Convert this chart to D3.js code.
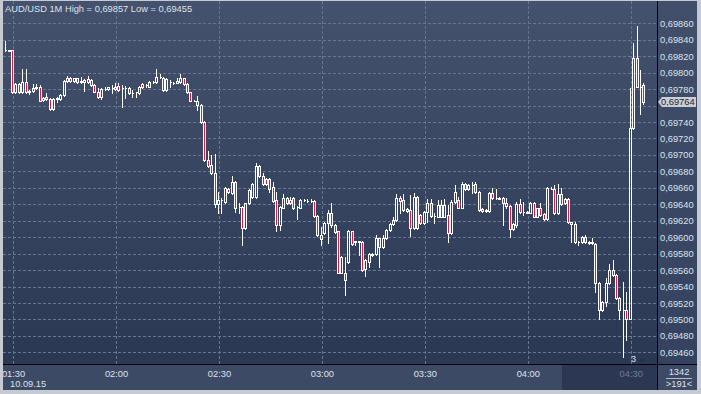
<!DOCTYPE html>
<html>
<head>
<meta charset="utf-8">
<script src="https://cdn.jsdelivr.net/npm/d3@7"></script>
<style>
  html, body { margin: 0; padding: 0; background: #c6cbd3; }
  svg { display: block; font-family: "Liberation Sans", Arial, sans-serif; }
</style>
</head>
<body>
<div id="chart"></div>
<script>
// AUD/USD 1M bars, 10.09.15 01:28 .. 04:34
const firstBar = new Date(2015, 8, 10, 1, 28);

const open = [0.69827,0.69827,0.69827,0.69776,0.69786,0.69776,0.69789,0.69777,0.69778,0.69781,
0.69782,0.69767,0.69771,0.69768,0.69756,0.69768,0.69768,0.69773,0.69790,0.69794,
0.69790,0.69793,0.69789,0.69791,0.69789,0.69791,0.69785,0.69777,0.69770,0.69780,
0.69780,0.69781,0.69783,0.69784,0.69781,0.69781,0.69781,0.69775,0.69776,0.69775,
0.69786,0.69785,0.69783,0.69789,0.69789,0.69795,0.69793,0.69779,0.69789,0.69788,
0.69788,0.69789,0.69793,0.69786,0.69776,0.69766,0.69766,0.69761,0.69740,0.69694,
0.69688,0.69678,0.69640,0.69645,0.69643,0.69658,0.69654,0.69667,0.69637,0.69637,
0.69611,0.69641,0.69649,0.69649,0.69687,0.69674,0.69671,0.69671,0.69661,0.69645,
0.69615,0.69636,0.69648,0.69645,0.69648,0.69637,0.69636,0.69645,0.69644,0.69644,
0.69644,0.69626,0.69603,0.69605,0.69617,0.69629,0.69615,0.69607,0.69557,0.69557,
0.69570,0.69607,0.69595,0.69596,0.69594,0.69561,0.69570,0.69580,0.69579,0.69599,
0.69588,0.69599,0.69609,0.69616,0.69621,0.69648,0.69645,0.69632,0.69633,0.69611,
0.69649,0.69627,0.69617,0.69631,0.69641,0.69626,0.69625,0.69639,0.69625,0.69627,
0.69605,0.69643,0.69645,0.69636,0.69665,0.69658,0.69663,0.69665,0.69655,0.69634,
0.69632,0.69632,0.69654,0.69648,0.69648,0.69648,0.69642,0.69638,0.69610,0.69615,
0.69640,0.69631,0.69631,0.69630,0.69641,0.69625,0.69635,0.69628,0.69622,0.69659,
0.69659,0.69629,0.69653,0.69641,0.69647,0.69618,0.69616,0.69594,0.69594,0.69600,
0.69594,0.69594,0.69592,0.69544,0.69511,0.69521,0.69544,0.69560,0.69554,0.69526,
0.69511,0.69511,0.69501,0.69733,0.69818,0.69783,0.69785];

const high = [0.69838,0.69828,0.69828,0.69787,0.69787,0.69805,0.69805,0.69779,0.69786,0.69786,
0.69785,0.69771,0.69775,0.69769,0.69769,0.69770,0.69774,0.69791,0.69796,0.69795,
0.69794,0.69794,0.69795,0.69792,0.69796,0.69792,0.69786,0.69781,0.69781,0.69782,
0.69782,0.69785,0.69787,0.69788,0.69785,0.69784,0.69782,0.69779,0.69777,0.69784,
0.69787,0.69786,0.69790,0.69790,0.69805,0.69798,0.69795,0.69793,0.69791,0.69789,
0.69793,0.69798,0.69794,0.69787,0.69777,0.69767,0.69772,0.69762,0.69741,0.69705,
0.69700,0.69701,0.69655,0.69648,0.69661,0.69660,0.69674,0.69668,0.69641,0.69638,
0.69642,0.69658,0.69666,0.69690,0.69688,0.69678,0.69672,0.69672,0.69667,0.69655,
0.69638,0.69652,0.69649,0.69649,0.69649,0.69638,0.69646,0.69646,0.69646,0.69646,
0.69645,0.69627,0.69612,0.69618,0.69633,0.69641,0.69616,0.69607,0.69577,0.69576,
0.69609,0.69608,0.69596,0.69596,0.69595,0.69573,0.69581,0.69581,0.69603,0.69599,
0.69603,0.69610,0.69617,0.69625,0.69653,0.69650,0.69653,0.69635,0.69651,0.69654,
0.69650,0.69628,0.69632,0.69646,0.69647,0.69629,0.69645,0.69645,0.69646,0.69639,
0.69645,0.69663,0.69649,0.69667,0.69666,0.69665,0.69667,0.69667,0.69656,0.69635,
0.69634,0.69655,0.69660,0.69659,0.69649,0.69649,0.69648,0.69639,0.69617,0.69643,
0.69646,0.69643,0.69632,0.69643,0.69643,0.69636,0.69641,0.69629,0.69661,0.69661,
0.69664,0.69665,0.69660,0.69648,0.69648,0.69619,0.69619,0.69595,0.69601,0.69603,
0.69595,0.69599,0.69593,0.69545,0.69522,0.69550,0.69568,0.69572,0.69555,0.69527,
0.69546,0.69534,0.69781,0.69836,0.69857,0.69803,0.69787];

const low = [0.69826,0.69826,0.69775,0.69775,0.69775,0.69775,0.69775,0.69774,0.69776,0.69780,
0.69765,0.69765,0.69767,0.69755,0.69755,0.69764,0.69767,0.69772,0.69789,0.69789,
0.69789,0.69787,0.69788,0.69778,0.69787,0.69784,0.69776,0.69769,0.69768,0.69779,
0.69779,0.69775,0.69779,0.69778,0.69758,0.69769,0.69774,0.69771,0.69771,0.69774,
0.69781,0.69783,0.69782,0.69788,0.69788,0.69793,0.69778,0.69778,0.69783,0.69786,
0.69787,0.69788,0.69785,0.69775,0.69765,0.69765,0.69755,0.69739,0.69693,0.69685,
0.69677,0.69637,0.69629,0.69630,0.69642,0.69654,0.69653,0.69631,0.69630,0.69590,
0.69610,0.69640,0.69648,0.69648,0.69673,0.69664,0.69664,0.69655,0.69643,0.69607,
0.69609,0.69635,0.69640,0.69640,0.69634,0.69622,0.69635,0.69644,0.69643,0.69643,
0.69624,0.69601,0.69590,0.69604,0.69593,0.69613,0.69605,0.69556,0.69556,0.69530,
0.69569,0.69591,0.69590,0.69578,0.69559,0.69553,0.69564,0.69577,0.69578,0.69564,
0.69587,0.69598,0.69608,0.69615,0.69620,0.69629,0.69632,0.69631,0.69601,0.69610,
0.69610,0.69616,0.69616,0.69619,0.69624,0.69617,0.69624,0.69624,0.69624,0.69594,
0.69604,0.69642,0.69635,0.69635,0.69657,0.69657,0.69654,0.69654,0.69632,0.69631,
0.69631,0.69631,0.69647,0.69647,0.69646,0.69615,0.69635,0.69600,0.69609,0.69613,
0.69630,0.69627,0.69629,0.69629,0.69624,0.69624,0.69626,0.69621,0.69621,0.69658,
0.69628,0.69628,0.69639,0.69640,0.69617,0.69594,0.69593,0.69591,0.69593,0.69593,
0.69592,0.69592,0.69534,0.69501,0.69510,0.69517,0.69543,0.69553,0.69525,0.69501,
0.69455,0.69475,0.69500,0.69732,0.69817,0.69750,0.69762];

const close = [0.69827,0.69826,0.69776,0.69786,0.69776,0.69789,0.69777,0.69778,0.69781,0.69782,
0.69766,0.69769,0.69768,0.69756,0.69768,0.69769,0.69773,0.69790,0.69794,0.69790,
0.69793,0.69789,0.69790,0.69789,0.69792,0.69785,0.69777,0.69770,0.69780,0.69780,
0.69782,0.69781,0.69780,0.69779,0.69781,0.69781,0.69775,0.69775,0.69776,0.69783,
0.69782,0.69785,0.69789,0.69789,0.69795,0.69795,0.69779,0.69792,0.69789,0.69788,
0.69790,0.69793,0.69786,0.69776,0.69766,0.69766,0.69761,0.69740,0.69694,0.69686,
0.69678,0.69640,0.69645,0.69645,0.69660,0.69655,0.69667,0.69636,0.69637,0.69611,
0.69641,0.69657,0.69665,0.69687,0.69674,0.69665,0.69665,0.69659,0.69644,0.69615,
0.69637,0.69648,0.69641,0.69641,0.69635,0.69637,0.69645,0.69645,0.69644,0.69644,
0.69626,0.69603,0.69598,0.69617,0.69629,0.69615,0.69606,0.69557,0.69576,0.69548,
0.69607,0.69592,0.69594,0.69594,0.69560,0.69572,0.69580,0.69578,0.69599,0.69588,
0.69599,0.69609,0.69616,0.69621,0.69648,0.69644,0.69633,0.69634,0.69611,0.69649,
0.69611,0.69617,0.69631,0.69642,0.69626,0.69626,0.69639,0.69625,0.69639,0.69605,
0.69643,0.69655,0.69636,0.69665,0.69658,0.69663,0.69664,0.69655,0.69633,0.69632,
0.69633,0.69654,0.69648,0.69648,0.69647,0.69642,0.69638,0.69610,0.69616,0.69640,
0.69631,0.69631,0.69630,0.69641,0.69625,0.69635,0.69627,0.69622,0.69660,0.69659,
0.69629,0.69653,0.69640,0.69647,0.69618,0.69616,0.69594,0.69594,0.69600,0.69594,
0.69593,0.69593,0.69544,0.69511,0.69521,0.69544,0.69560,0.69554,0.69526,0.69511,
0.69511,0.69501,0.69733,0.69818,0.69783,0.69783,0.69764];

const priceTicks = [0.69460,0.69480,0.69500,0.69520,0.69540,0.69560,0.69580,0.69600,0.69620,
  0.69640,0.69660,0.69680,0.69700,0.69720,0.69740,0.69760,0.69780,0.69800,0.69820,0.69840,0.69860];
const timeTicks = ["01:30","02:00","02:30","03:00","03:30","04:00","04:30"];

const title = "AUD/USD 1M High = 0,69857 Low = 0,69455";
const lastPrice = 0.69764;

const width = 701, height = 394;
const plot = { left: 3, top: 1, right: 657, bottom: 364 };
const textColor = "#dde2ea";
const fontSize = "9.3px";

const bars = open.map((o, i) => ({
  t: d3.timeMinute.offset(firstBar, i),
  o, h: high[i], l: low[i], c: close[i]
}));

const parseHM = s => {
  const [hh, mm] = s.split(":").map(Number);
  return new Date(2015, 8, 10, hh, mm);
};

const x = d3.scaleTime()
  .domain([new Date(2015, 8, 10, 2, 0), new Date(2015, 8, 10, 4, 30)])
  .range([116, 630.7]);
const y = d3.scaleLinear()
  .domain([0.69460, 0.69860])
  .range([352.4, 23.3]);

const comma = p => d3.format(".5f")(p).replace(".", ",");

const svg = d3.select("#chart").append("svg")
  .attr("width", width).attr("height", height)
  .attr("viewBox", [0, 0, width, height]);

const defs = svg.append("defs");
const grad = defs.append("linearGradient").attr("id", "bg")
  .attr("x1", 0).attr("y1", 0).attr("x2", 0).attr("y2", 1);
grad.append("stop").attr("offset", 0).attr("stop-color", "#44526e");
grad.append("stop").attr("offset", 1).attr("stop-color", "#2b3853");
const gradR = defs.append("linearGradient").attr("id", "bgR")
  .attr("x1", 0).attr("y1", 0).attr("x2", 0).attr("y2", 1);
gradR.append("stop").attr("offset", 0).attr("stop-color", "#414f6b");
gradR.append("stop").attr("offset", 1).attr("stop-color", "#344260");
defs.append("clipPath").attr("id", "plotClip").append("rect")
  .attr("x", plot.left).attr("y", plot.top)
  .attr("width", plot.right - plot.left).attr("height", plot.bottom - plot.top);

// backgrounds
svg.append("rect").attr("x", 0).attr("y", 0).attr("width", width).attr("height", height).attr("fill", "#c6cbd3");
svg.append("rect").attr("x", plot.left).attr("y", plot.top)
  .attr("width", plot.right - plot.left).attr("height", plot.bottom - plot.top)
  .attr("fill", "url(#bg)");
svg.append("rect").attr("x", plot.right).attr("y", plot.top)
  .attr("width", 697 - plot.right).attr("height", plot.bottom - plot.top)
  .attr("fill", "url(#bgR)");
svg.append("rect").attr("x", plot.left).attr("y", plot.bottom)
  .attr("width", 697 - plot.left).attr("height", 390 - plot.bottom)
  .attr("fill", "#3c4a65");
// darker zone at the right of the time axis
svg.append("rect").attr("x", 562).attr("y", plot.bottom + 1)
  .attr("width", plot.right - 562).attr("height", 390 - plot.bottom - 1)
  .attr("fill", "#2c3853");

// grid
const grid = svg.append("g").attr("clip-path", "url(#plotClip)")
  .attr("stroke", "#667693").attr("stroke-dasharray", "3,2").attr("shape-rendering", "crispEdges");
grid.selectAll("line.h").data(priceTicks).join("line").attr("class", "h")
  .attr("x1", plot.left).attr("x2", plot.right)
  .attr("y1", d => Math.round(y(d)) + 0.5).attr("y2", d => Math.round(y(d)) + 0.5);
grid.selectAll("line.v").data(timeTicks).join("line").attr("class", "v")
  .attr("y1", plot.top).attr("y2", plot.bottom)
  .attr("x1", d => Math.round(x(parseHM(d))) + 0.5).attr("x2", d => Math.round(x(parseHM(d))) + 0.5);

// candles
const red = "#e3173e";
const candles = svg.append("g").attr("clip-path", "url(#plotClip)")
  .attr("shape-rendering", "crispEdges");
const cx = d => Math.round(x(d.t));
const bodyTop = d => Math.round(y(Math.max(d.o, d.c)));
const bodyBot = d => Math.round(y(Math.min(d.o, d.c)));

candles.selectAll("path.wick").data(bars).join("path").attr("class", "wick")
  .attr("stroke", "#ffffff").attr("fill", "none")
  .attr("d", d => {
    const wx = cx(d) - 0.5;
    return `M${wx},${Math.round(y(d.h))}V${bodyTop(d)}M${wx},${bodyBot(d)}V${Math.round(y(d.l)) + 1}`;
  });
candles.selectAll("path.body").data(bars).join("path").attr("class", "body")
  .attr("stroke", "#ffffff")
  .attr("fill", d => d.c < d.o ? red : "none")
  .attr("d", d => {
    const x0 = cx(d) - 1.5, x1 = cx(d) + 0.5;
    const y0 = bodyTop(d) + 0.5, y1 = bodyBot(d) + 0.5;
    return `M${x0},${y0}H${x1}V${y1}H${x0}Z`;
  });

// price axis (the label under the last-price marker is hidden, as in the terminal)
const ly = Math.round(y(lastPrice));
const yAxis = d3.axisRight(y)
  .tickValues(priceTicks.filter(p => Math.abs(y(p) - ly) > 7))
  .tickSize(0).tickPadding(3).tickFormat(comma);
svg.append("g").attr("transform", `translate(${plot.right},0)`)
  .call(yAxis)
  .call(g => g.select(".domain").remove())
  .call(g => g.selectAll("text").attr("fill", textColor).attr("font-size", fontSize)
    .attr("font-family", "'Liberation Sans', Arial, sans-serif"));

// time axis
const xAxis = d3.axisBottom(x).tickValues(timeTicks.map(parseHM)).tickSize(0).tickPadding(6)
  .tickFormat(d3.timeFormat("%H:%M"));
svg.append("g").attr("transform", `translate(0,${plot.bottom})`)
  .call(xAxis)
  .call(g => g.select(".domain").remove())
  .call(g => g.selectAll("text")
    .attr("fill", d => d3.timeFormat("%H:%M")(d) === "04:30" ? "#6e7b93" : textColor)
    .attr("font-size", fontSize)
    .attr("font-family", "'Liberation Sans', Arial, sans-serif"));
svg.append("text").attr("x", 10).attr("y", 387)
  .attr("fill", textColor).attr("font-size", fontSize).text("10.09.15");

// separators
svg.append("g").attr("stroke", "#000").attr("shape-rendering", "crispEdges")
  .call(g => g.append("line").attr("x1", plot.right + 0.5).attr("x2", plot.right + 0.5).attr("y1", plot.top).attr("y2", 390))
  .call(g => g.append("line").attr("x1", plot.left).attr("x2", 697).attr("y1", plot.bottom + 0.5).attr("y2", plot.bottom + 0.5));

// last price marker
svg.append("path")
  .attr("d", `M${plot.right + 1},${ly} L${plot.right + 5},${ly - 5} H696 V${ly + 5} H${plot.right + 5} Z`)
  .attr("fill", "#c9cdd4");
svg.append("text").attr("x", plot.right + 4).attr("y", ly).attr("dy", "0.35em")
  .attr("fill", "#1f2636").attr("font-size", fontSize).text(comma(lastPrice));

// title
svg.append("text").attr("x", 5).attr("y", 12)
  .attr("fill", textColor).attr("font-size", fontSize).text(title);

// small marker near the last bar
svg.append("text").attr("x", 631).attr("y", 362)
  .attr("fill", textColor).attr("font-size", "9px").text("3");
svg.append("path").attr("d", "M638,362 L646,362 L642,358 Z").attr("fill", "#25304a");

// bottom-right box
svg.append("text").attr("x", 679).attr("y", 375).attr("text-anchor", "middle")
  .attr("fill", textColor).attr("font-size", fontSize).text("1342");
svg.append("line").attr("x1", 666).attr("x2", 692).attr("y1", 378.5).attr("y2", 378.5)
  .attr("stroke", "#b8bfcb").attr("shape-rendering", "crispEdges");
svg.append("text").attr("x", 679).attr("y", 387).attr("text-anchor", "middle")
  .attr("fill", textColor).attr("font-size", fontSize).text(">191<");

// outer frame
svg.append("g").attr("fill", "#c6cbd3")
  .call(g => g.append("rect").attr("x", 0).attr("y", 0).attr("width", 3).attr("height", height))
  .call(g => g.append("rect").attr("x", 697).attr("y", 0).attr("width", 4).attr("height", height))
  .call(g => g.append("rect").attr("x", 0).attr("y", 390).attr("width", width).attr("height", 4))
  .call(g => g.append("rect").attr("x", 0).attr("y", 0).attr("width", width).attr("height", 1));
</script>
</body>
</html>
